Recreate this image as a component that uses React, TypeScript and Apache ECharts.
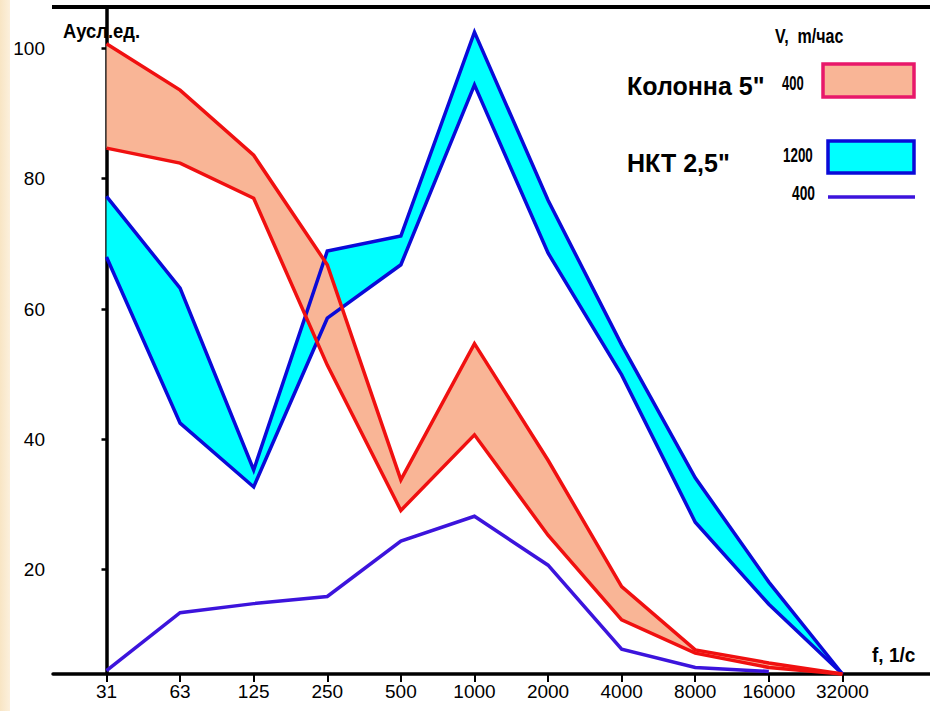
import React, { useEffect, useRef } from 'react';
import * as echarts from 'echarts';

// Frequency categories, f, 1/c
const categories = ['31', '63', '125', '250', '500', '1000', '2000', '4000', '8000', '16000', '32000'];
// Y tick labels, A усл.ед.
const yTicks = [20, 40, 60, 80, 100];
// Колонна 5", V = 400 m/час : band boundaries
const kolonnaUpper = [100.7, 93.6, 83.6, 66.8, 33.8, 54.7, 36.8, 17.4, 7.7, 5.7, 4.0];
const kolonnaLower = [84.7, 82.4, 77.0, 51.4, 29.1, 40.7, 25.3, 12.3, 7.2, 5.0, 4.0];
// НКТ 2,5", V = 1200 m/час : band boundaries
const nktUpper = [77.3, 63.2, 35.3, 68.9, 71.2, 102.5, 76.7, 54.5, 34.1, 18.1, 4.0];
const nktLower = [68.0, 42.5, 32.7, 58.6, 66.8, 94.4, 68.6, 49.9, 27.3, 14.7, 4.0];
// НКТ 2,5", V = 400 m/час : line
const nkt400 = [4.5, 13.4, 14.8, 15.9, 24.4, 28.2, 20.7, 7.8, 5.0, 4.4, null];

const FONT = "'Liberation Sans', Arial, sans-serif";

export default function App() {
  const ref = useRef<HTMLDivElement>(null);

  useEffect(() => {
    document.body.style.margin = '0';
    const chart = echarts.init(ref.current as HTMLDivElement, null, { renderer: 'svg' });

    const toPairs = (arr: (number | null)[]) => arr.map((v, i) => [i, v]);

    const band = (upper: number[], lower: number[], fill: string, z: number) => ({
      type: 'custom',
      silent: true,
      z,
      data: [[0, upper[0]]],
      renderItem: (_params: any, api: any) => {
        const pts: number[][] = [];
        upper.forEach((v, i) => pts.push(api.coord([i, v])));
        for (let i = lower.length - 1; i >= 0; i--) pts.push(api.coord([i, lower[i]]));
        return { type: 'polygon', shape: { points: pts }, style: { fill, stroke: 'none' } };
      },
    });

    const line = (data: (number | null)[], color: string, z: number) => ({
      type: 'line',
      data: toPairs(data),
      symbol: 'none',
      clip: false,
      silent: true,
      z,
      lineStyle: { color, width: 3.5, join: 'miter' },
    });

    const idx = categories.map((_, i) => i);

    const label = (text: string, x: number, y: number, size: number, scaleX: number, align = 'left') => ({
      type: 'text',
      x,
      y,
      scaleX,
      silent: true,
      style: { text, font: `bold ${size}px ${FONT}`, fill: '#000', textAlign: align, textVerticalAlign: 'middle' },
    });

    chart.setOption({
      animation: false,
      backgroundColor: '#ffffff',
      grid: { left: 53, right: 0, top: 8, bottom: 37, containLabel: false },
      xAxis: {
        type: 'value',
        min: -0.727,
        max: 11.19,
        splitLine: { show: false },
        axisLine: { show: true, onZero: false, lineStyle: { color: '#000', width: 3.5 } },
        axisTick: { show: true, customValues: idx, length: 8, lineStyle: { color: '#000', width: 2 } },
        axisLabel: {
          customValues: idx,
          formatter: (v: number) => categories[Math.round(v)],
          color: '#000',
          fontSize: 19,
          fontFamily: FONT,
          margin: 8,
        },
      },
      yAxis: {
        type: 'value',
        min: 4,
        max: 106.2,
        splitLine: { show: false },
        axisLine: { show: true, lineStyle: { color: '#000', width: 3.5 } },
        axisTick: { show: true, customValues: yTicks, length: 5, lineStyle: { color: '#000', width: 2.5 } },
        axisLabel: {
          customValues: yTicks,
          color: '#000',
          fontSize: 19,
          fontFamily: FONT,
          margin: 8,
        },
      },
      series: [
        band(nktUpper, nktLower, '#00ffff', 1),
        band(kolonnaUpper, kolonnaLower, '#f9b596', 2),
        line(nktUpper, '#0a0ad8', 3),
        line(nktLower, '#0a0ad8', 3),
        line(kolonnaUpper, '#f01010', 4),
        line(kolonnaLower, '#f01010', 4),
        line(nkt400, '#3c14dc', 5),
      ],
      graphic: [
        {
          type: 'rect',
          shape: { x: 0, y: 0, width: 10, height: 711 },
          style: {
            fill: new echarts.graphic.LinearGradient(0, 0, 1, 0, [
              { offset: 0, color: '#f8e5c4' },
              { offset: 1, color: '#fcf0dc' },
            ]),
          },
          silent: true,
        },
        { type: 'line', shape: { x1: 52, y1: 7, x2: 930, y2: 7 }, style: { stroke: '#000', lineWidth: 4 }, silent: true },
        label('Аусл.ед.', 63, 31, 20, 0.92),
        label('f, 1/c', 872, 655, 20, 0.95),
        label('V,  m/час', 775, 36, 20, 0.8),
        label('Колонна 5"', 627, 86, 25, 1),
        label('400', 782, 83, 20, 0.65),
        { type: 'rect', shape: { x: 823, y: 64, width: 91, height: 33 }, style: { fill: '#f9b596', stroke: '#e8186a', lineWidth: 3.5 } },
        label('НКТ 2,5"', 627, 163, 25, 1),
        label('1200', 783, 156, 20, 0.67),
        { type: 'rect', shape: { x: 828, y: 141, width: 86, height: 32 }, style: { fill: '#00ffff', stroke: '#0a0ad8', lineWidth: 3.5 } },
        label('400', 792, 193, 20, 0.69),
        { type: 'line', shape: { x1: 828, y1: 197, x2: 915, y2: 197 }, style: { stroke: '#3c14dc', lineWidth: 3.5 } },
      ],
    });

    return () => chart.dispose();
  }, []);

  return <div ref={ref} style={{ width: 930, height: 711 }} />;
}
